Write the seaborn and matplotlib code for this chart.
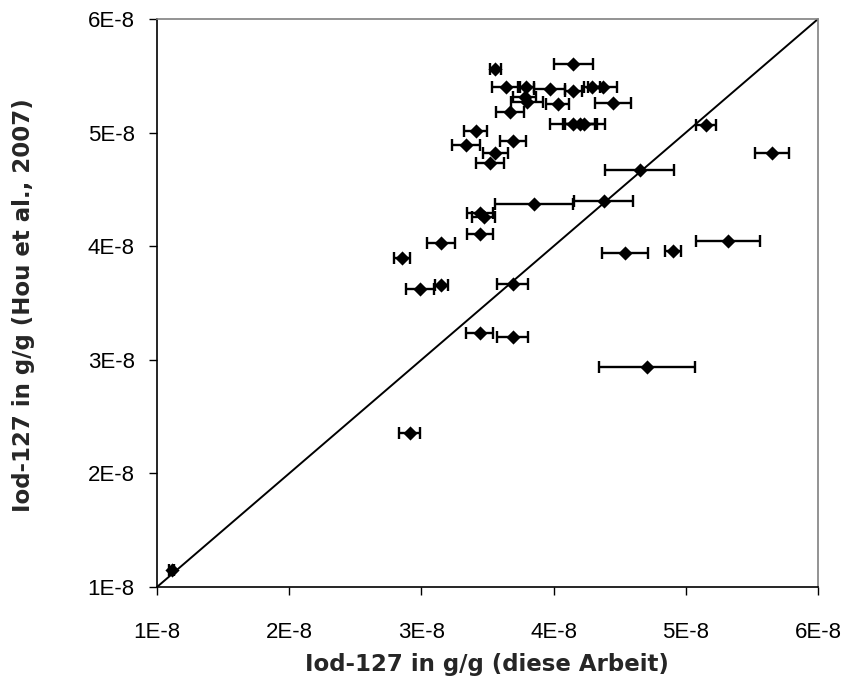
import matplotlib
matplotlib.use("Agg")
import matplotlib.pyplot as plt
import seaborn as sns
import pandas as pd
import numpy as np
from matplotlib.ticker import FixedLocator, FuncFormatter

sns.set_theme(style="white")
plt.rcParams['font.family'] = ['Liberation Sans', 'DejaVu Sans']

# values in units of 1E-8 g/g
x_this_work = [1.11, 3.56, 4.15, 3.64, 3.79, 3.97, 4.15, 4.29, 4.37,
               3.78, 3.80, 4.03, 4.45, 3.67, 4.15, 4.20, 4.23,
               3.41, 3.34, 3.69, 3.56, 3.52, 5.15, 5.65, 4.65,
               3.85, 4.38, 3.445, 3.47, 3.44, 3.15, 2.85, 2.99, 3.15,
               3.69, 5.32, 4.54, 4.90, 3.44, 3.69, 4.71, 2.91]
y_hou = [1.15, 5.56, 5.60, 5.40, 5.40, 5.38, 5.37, 5.40, 5.40,
         5.31, 5.27, 5.25, 5.26, 5.18, 5.08, 5.08, 5.08,
         5.01, 4.89, 4.93, 4.82, 4.73, 5.07, 4.82, 4.67,
         4.37, 4.40, 4.29, 4.26, 4.11, 4.03, 3.90, 3.62, 3.66,
         3.67, 4.05, 3.94, 3.96, 3.24, 3.20, 2.94, 2.36]
x_err = [0.02, 0.04, 0.15, 0.107, 0.06, 0.116, 0.064, 0.058, 0.109,
         0.09, 0.12, 0.088, 0.136, 0.107, 0.18, 0.11, 0.158,
         0.088, 0.106, 0.098, 0.093, 0.106, 0.076, 0.13, 0.258,
         0.294, 0.224, 0.10, 0.085, 0.098, 0.107, 0.06, 0.106, 0.048,
         0.116, 0.242, 0.175, 0.06, 0.10, 0.116, 0.363, 0.083]

tick_values = [1, 2, 3, 4, 5, 6]
tick_labels = ["1E-8", "2E-8", "3E-8", "4E-8", "5E-8", "6E-8"]
x_label = "Iod-127 in g/g (diese Arbeit)"
y_label = "Iod-127 in g/g (Hou et al., 2007)"

scale = 1e-8
df = pd.DataFrame({
    "x": np.array(x_this_work) * scale,
    "y": np.array(y_hou) * scale,
    "xerr": np.array(x_err) * scale,
})

fig = plt.figure(figsize=(8.51, 6.86), dpi=100)
ax = fig.add_axes([157/851, 1 - 587/686, (818-157)/851, (587-19)/686])

lo, hi = tick_values[0] * scale, tick_values[-1] * scale
ax.plot([lo, hi], [lo, hi], color="black", linewidth=1.4, zorder=1)

ax.errorbar(df["x"], df["y"], xerr=df["xerr"], fmt="none", ecolor="black",
            elinewidth=1.7, capsize=4.5, capthick=1.7, zorder=2)
sns.scatterplot(data=df, x="x", y="y", marker="D", s=52, color="black",
                edgecolor="black", linewidth=0, ax=ax, zorder=3)

ax.set_xlim(lo, hi)
ax.set_ylim(lo, hi)
ax.xaxis.set_major_locator(FixedLocator([v * scale for v in tick_values]))
ax.yaxis.set_major_locator(FixedLocator([v * scale for v in tick_values]))
fmt = FuncFormatter(lambda v, p: tick_labels[int(round(v / scale)) - 1])
ax.xaxis.set_major_formatter(fmt)
ax.yaxis.set_major_formatter(fmt)

ax.tick_params(axis="both", which="major", direction="out", length=6,
               width=1, color="black", labelsize=16, labelcolor="black",
               bottom=True, left=True)
ax.tick_params(axis="x", pad=19)
ax.tick_params(axis="y", pad=10)

for side in ["left", "bottom"]:
    ax.spines[side].set_color("black")
    ax.spines[side].set_linewidth(1.2)
for side in ["top", "right"]:
    ax.spines[side].set_color("#808080")
    ax.spines[side].set_linewidth(1.2)

ax.set_xlabel(x_label, fontsize=16.5, fontweight="bold", family="DejaVu Sans",
              va="center")
ax.set_ylabel(y_label, fontsize=16.5, fontweight="bold", family="DejaVu Sans",
              va="center")
ax.xaxis.set_label_coords((487 - 157) / 661, -(665 - 587) / 568)
ax.yaxis.set_label_coords((24 - 157) / 661, (587 - 305) / 568)
ax.grid(False)

fig.savefig("out.png", dpi=100, facecolor="white")
